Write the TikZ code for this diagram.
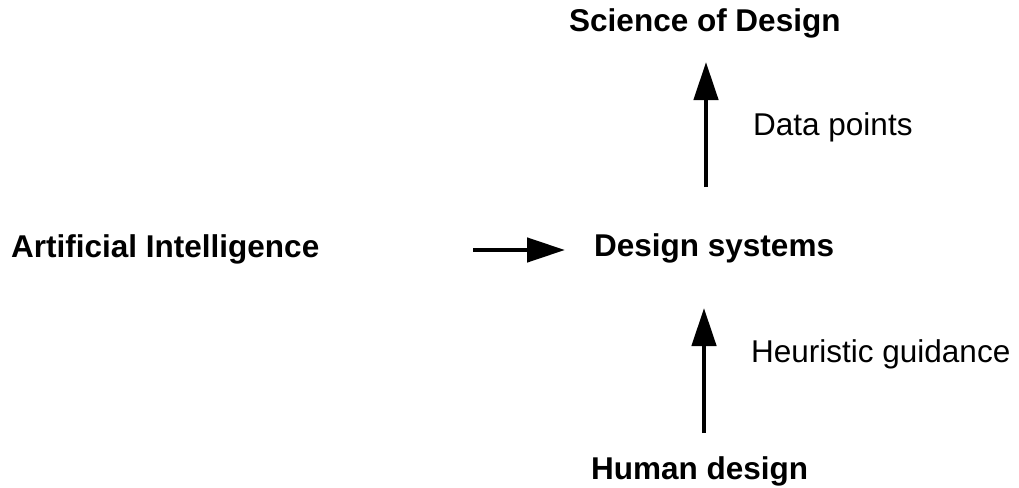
\documentclass[tikz,border=0pt]{standalone}
\usepackage{fontspec}
\setmainfont{Liberation Sans}
\usetikzlibrary{arrows.meta}
\tikzset{
  lbl/.style={inner sep=0pt, anchor=base west, font=\fontsize{31.5}{36}\selectfont},
  blbl/.style={lbl, font=\fontsize{31.5}{36}\selectfont\bfseries},
  arr/.style={line width=4.6pt, -{Triangle[length=38pt,width=24pt]}}
}
\begin{document}
\begin{tikzpicture}[x=1pt,y=-1pt]
\useasboundingbox (0,0) rectangle (1019,487);
\node[blbl] (ai) at (11,257) {Artificial Intelligence};
\node[blbl] (ds) at (594,256) {Design systems};
\node[blbl] (sd) at (569,32) {Science of Design};
\node[blbl] (hd) at (591,479) {Human design};
\node[lbl] (dp) at (753,135) {Data points};
\node[lbl] (hg) at (751,362) {Heuristic guidance};
\coordinate (h1) at (473,250);
\coordinate (h2) at (565,250);
\coordinate (u1) at (706,187);
\coordinate (u2) at (706,62);
\coordinate (l1) at (704,433);
\coordinate (l2) at (704,308);
\draw[arr] (h1) -- (h2);
\draw[arr] (u1) -- (u2);
\draw[arr] (l1) -- (l2);
\end{tikzpicture}
\end{document}
